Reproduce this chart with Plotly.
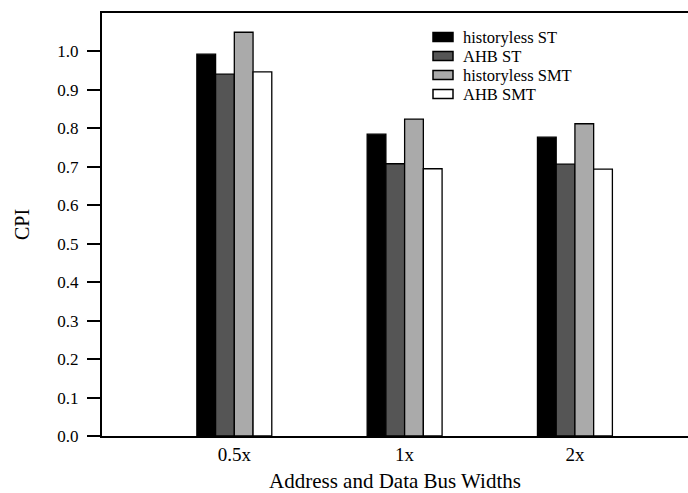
import plotly.graph_objects as go

# Bus width configurations and CPI results per configuration
categories = ["0.5x", "1x", "2x"]
series_names = ["historyless ST", "AHB ST", "historyless SMT", "AHB SMT"]
historyless_st = [0.993, 0.785, 0.777]
ahb_st = [0.941, 0.708, 0.707]
historyless_smt = [1.050, 0.824, 0.812]
ahb_smt = [0.947, 0.695, 0.694]
y_ticks = [0.0, 0.1, 0.2, 0.3, 0.4, 0.5, 0.6, 0.7, 0.8, 0.9, 1.0]

series_values = [historyless_st, ahb_st, historyless_smt, ahb_smt]
fill_colors = ["#000000", "#555555", "#aaaaaa", "#ffffff"]

font_family = "Liberation Serif, Times New Roman, serif"

W, H = 688, 493
M_L, M_R, M_T, M_B = 102, 0, 13, 57
plot_w = W - M_L - M_R
plot_h = H - M_T - M_B

fig = go.Figure()
for name, vals, color in zip(series_names, series_values, fill_colors):
    fig.add_trace(go.Bar(
        x=categories,
        y=vals,
        name=name,
        showlegend=False,
        marker=dict(color=color, line=dict(color="#000000", width=1.3)),
    ))

# Compact legend: wide swatches with tightly spaced rows (paper coordinates)
def px_x(px):
    return (px - M_L) / plot_w

def px_y(py):
    return (H - M_B - py) / plot_h

row_top = 37
row_step = 19
sw_left, sw_right, sw_half = 433, 453, 4.5
text_left = 462
for i, (name, color) in enumerate(zip(series_names, fill_colors)):
    cy = row_top + i * row_step
    fig.add_shape(
        type="rect", xref="paper", yref="paper",
        x0=px_x(sw_left), x1=px_x(sw_right),
        y0=px_y(cy + sw_half), y1=px_y(cy - sw_half),
        fillcolor=color, line=dict(color="#000000", width=1.5),
    )
    fig.add_annotation(
        xref="paper", yref="paper",
        x=px_x(text_left), y=px_y(cy + 0.5),
        xanchor="left", yanchor="middle",
        text=name, showarrow=False, borderpad=0,
        font=dict(family=font_family, size=16.5, color="#000000"),
    )

fig.update_layout(
    width=W,
    height=H,
    margin=dict(l=M_L, r=M_R, t=M_T, b=M_B),
    paper_bgcolor="white",
    plot_bgcolor="white",
    barmode="group",
    bargap=0.56,
    bargroupgap=0,
    showlegend=False,
    font=dict(family=font_family, size=16, color="#000000"),
    xaxis=dict(
        range=[-0.777, 2.664],
        automargin=False,
        showline=True,
        linecolor="#000000",
        linewidth=2,
        mirror=True,
        ticks="",
        showgrid=False,
        zeroline=False,
        tickfont=dict(family=font_family, size=19),
        title=dict(text="Address and Data Bus Widths", standoff=18,
                   font=dict(family=font_family, size=21)),
    ),
    yaxis=dict(
        range=[0, 1.1],
        automargin=False,
        tickvals=y_ticks,
        ticktext=[f"{v:.1f}" for v in y_ticks],
        showline=True,
        linecolor="#000000",
        linewidth=2,
        ticks="outside",
        ticklen=13,
        tickwidth=2,
        tickcolor="#000000",
        ticklabelstandoff=5,
        showgrid=False,
        zeroline=False,
        tickfont=dict(family=font_family, size=17),
        title=dict(text="CPI", standoff=22, font=dict(family=font_family, size=20)),
    ),
)

fig.write_html("out.html")
